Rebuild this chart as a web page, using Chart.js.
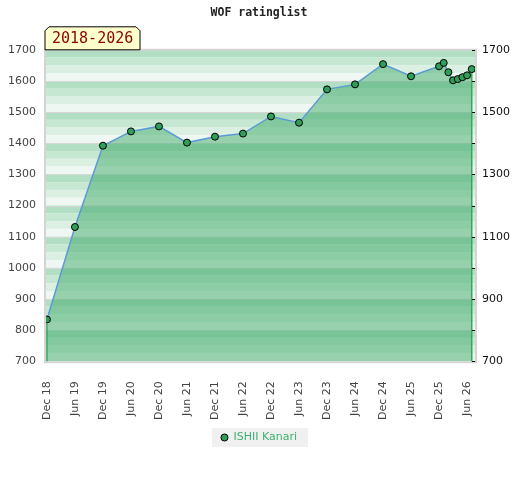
<!DOCTYPE html>
<html>
<head>
<meta charset="utf-8">
<script src="https://cdn.jsdelivr.net/npm/chart.js@4.4.1/dist/chart.umd.min.js"></script>
<style>
  html, body { margin: 0; padding: 0; background: #fff; }
  #wrap { width: 520px; height: 480px; }
</style>
</head>
<body>
<div id="wrap"><canvas id="c" width="520" height="480"></canvas></div>
<script>
// months counted from Dec 2018
const months = [0, 6, 12, 18, 24, 30, 36, 42, 48, 54, 60, 66, 72, 78, 84, 85, 86, 87, 88, 89, 90, 91];
const ratings = [834, 1131, 1392, 1438, 1454, 1402, 1421, 1431, 1486, 1466, 1573, 1589, 1654, 1615,
                 1647, 1658, 1628, 1602, 1606, 1612, 1618, 1638];
const tickMonths = [0, 6, 12, 18, 24, 30, 36, 42, 48, 54, 60, 66, 72, 78, 84, 90];
const tickLabels = ['Dec 18', 'Jun 19', 'Dec 19', 'Jun 20', 'Dec 20', 'Jun 21', 'Dec 21', 'Jun 22',
                    'Dec 22', 'Jun 23', 'Dec 23', 'Jun 24', 'Dec 24', 'Jun 25', 'Dec 25', 'Jun 26'];
const playerName = 'ISHII Kanari';
const periodLabel = '2018-2026';

// stripe colours of the plot background (4 per 100 points)
const stripeColors = ['rgb(178,223,195)', 'rgb(198,231,210)', 'rgb(219,240,227)', 'rgb(238,247,241)'];

const backgroundPlugin = {
  id: 'stripes',
  beforeDraw(chart) {
    const ctx = chart.ctx;
    const a = chart.chartArea;
    const y = chart.scales.y;
    ctx.save();
    for (let v = 1700; v > 700; v -= 25) {
      const i = ((1700 - v) / 25) % 4;
      const top = y.getPixelForValue(v);
      const bot = y.getPixelForValue(v - 25);
      ctx.fillStyle = stripeColors[i];
      ctx.fillRect(a.left, top, a.right - a.left, bot - top);
    }
    ctx.strokeStyle = 'rgb(215,215,215)';
    ctx.lineWidth = 1;
    for (let v = 1600; v > 700; v -= 100) {
      const p = Math.round(y.getPixelForValue(v)) + 0.5;
      ctx.beginPath();
      ctx.moveTo(a.left, p);
      ctx.lineTo(a.right, p);
      ctx.stroke();
    }
    // plot frame
    ctx.strokeStyle = 'rgb(212,212,212)';
    ctx.lineWidth = 2;
    ctx.strokeRect(a.left - 1, a.top, a.right - a.left + 2, a.bottom - a.top + 1);

    // legend background
    const lg = chart.legend;
    if (lg && lg.legendHitBoxes && lg.legendHitBoxes.length) {
      const hb = lg.legendHitBoxes[0];
      ctx.fillStyle = '#f0f0f0';
      ctx.fillRect(hb.left - 9, hb.top - 4, hb.width + 20, hb.height + 8);
    }
    ctx.restore();
  },
  afterDatasetsDraw(chart) {
    const ctx = chart.ctx;
    const a = chart.chartArea;
    const pts = chart.getDatasetMeta(0).data;
    ctx.save();
    ctx.strokeStyle = 'rgb(50,170,90)';
    ctx.lineWidth = 1.5;
    [pts[0], pts[pts.length - 1]].forEach(p => {
      ctx.beginPath();
      ctx.moveTo(p.x, p.y + 4);
      ctx.lineTo(p.x, a.bottom);
      ctx.stroke();
    });
    // small ticks of the right axis
    const y2 = chart.scales.y2;
    ctx.strokeStyle = '#000';
    ctx.lineWidth = 1;
    y2.ticks.forEach(t => {
      const p = Math.round(y2.getPixelForValue(t.value)) + 0.5;
      ctx.beginPath();
      ctx.moveTo(a.right - 3, p);
      ctx.lineTo(a.right, p);
      ctx.stroke();
    });
    ctx.restore();
  },
  afterDraw(chart) {
    const ctx = chart.ctx;
    const a = chart.chartArea;
    // period label box with cut corners
    const l = a.left - 1, r = a.left + 94, t = a.top - 23, b = a.top, c = 4;
    ctx.save();
    ctx.beginPath();
    ctx.moveTo(l, b);
    ctx.lineTo(l, t + c);
    ctx.lineTo(l + c, t);
    ctx.lineTo(r - c, t);
    ctx.lineTo(r, t + c);
    ctx.lineTo(r, b);
    ctx.closePath();
    ctx.fillStyle = '#ffffcc';
    ctx.fill();
    ctx.strokeStyle = '#000';
    ctx.lineWidth = 1;
    ctx.stroke();
    ctx.fillStyle = '#8b0000';
    ctx.font = '15px "DejaVu Sans Mono"';
    ctx.textBaseline = 'middle';
    ctx.textAlign = 'left';
    ctx.fillText(periodLabel, l + 7, (t + b) / 2 + 1);
    ctx.restore();
  }
};

new Chart(document.getElementById('c'), {
  type: 'line',
  data: {
    datasets: [{
      label: playerName,
      data: months.map((m, i) => ({ x: m, y: ratings[i] })),
      borderColor: 'rgb(91,155,213)',
      borderWidth: 1.5,
      backgroundColor: 'rgba(64,169,105,0.5)',
      fill: 'start',
      tension: 0,
      pointRadius: 3.5,
      pointBackgroundColor: 'rgb(46,158,88)',
      pointBorderColor: '#000',
      pointBorderWidth: 1
    }]
  },
  options: {
    responsive: false,
    animation: false,
    layout: { padding: { left: 8, right: 10, top: 0, bottom: 27 } },
    plugins: {
      title: {
        display: true,
        text: 'WOF ratinglist',
        color: '#222',
        font: { family: '"DejaVu Sans Mono"', size: 11.5, weight: 'bold' },
        padding: { top: 6, bottom: 30 }
      },
      legend: {
        position: 'bottom',
        labels: {
          usePointStyle: true,
          pointStyle: 'circle',
          boxWidth: 7,
          boxHeight: 5,
          color: 'rgb(60,179,113)',
          font: { family: '"DejaVu Sans"', size: 11 },
          padding: 10
        }
      },
      tooltip: { enabled: false }
    },
    scales: {
      x: {
        type: 'linear',
        min: -0.2,
        max: 91.7,
        afterBuildTicks(scale) {
          scale.ticks = tickMonths.map(v => ({ value: v }));
        },
        afterFit(scale) { scale.height -= 10; },
        ticks: {
          autoSkip: false,
          minRotation: 90,
          maxRotation: 90,
          padding: 12,
          color: '#444',
          font: { family: '"DejaVu Sans"', size: 11 },
          callback: v => tickLabels[tickMonths.indexOf(v)] || ''
        },
        grid: { display: false },
        border: { display: false }
      },
      y: {
        position: 'left',
        min: 700,
        max: 1700,
        afterFit(scale) { scale.width = 38; },
        ticks: {
          stepSize: 50,
          padding: 10,
          color: '#444',
          font: { family: '"DejaVu Sans"', size: 11 },
          callback: v => String(v)
        },
        grid: { display: false, drawTicks: false },
        border: { display: false }
      },
      y2: {
        position: 'right',
        min: 700,
        max: 1700,
        afterFit(scale) { scale.width = 35; },
        ticks: {
          stepSize: 100,
          padding: 7,
          color: '#111',
          font: { family: '"DejaVu Sans"', size: 11 },
          callback: v => ((v - 700) % 200 === 0 ? String(v) : '')
        },
        grid: { display: false, drawTicks: false },
        border: { display: false }
      }
    }
  },
  plugins: [backgroundPlugin]
});
</script>
</body>
</html>
